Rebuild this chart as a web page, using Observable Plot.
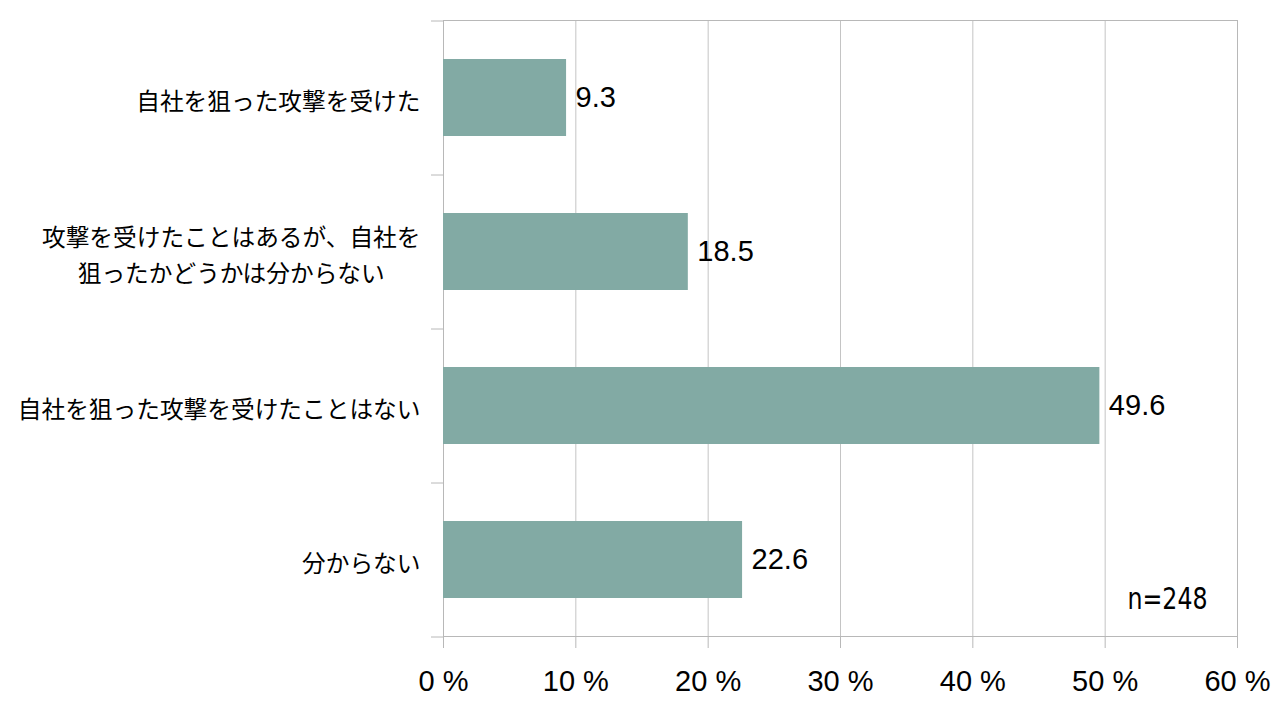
<!DOCTYPE html>
<html>
<head>
<meta charset="utf-8">
<script src="https://cdn.jsdelivr.net/npm/d3@7"></script>
<script src="https://cdn.jsdelivr.net/npm/@observablehq/plot@0.6"></script>
<style>
  html, body { margin: 0; padding: 0; background: #fff; }
</style>
</head>
<body>
<div id="chart"></div>
<script>
const categories = [
  "自社を狙った攻撃を受けた",
  "攻撃を受けたことはあるが、自社を\n狙ったかどうかは分からない",
  "自社を狙った攻撃を受けたことはない",
  "分からない"
];
const values = [9.3, 18.5, 49.6, 22.6];
const xTicks = [0, 10, 20, 30, 40, 50, 60];
const note = "n=248";

const data = categories.map((c, i) => ({category: c, value: values[i]}));

const W = 1286, H = 716;
const mT = 20, mB = 80, mL = 443, mR = 49;
const step = (H - mT - mB) / categories.length;
const gray = "#c4c4c4";
const axisGray = "#b8b8b8";

const chart = Plot.plot({
  width: W,
  height: H,
  marginTop: mT,
  marginBottom: mB,
  marginLeft: mL,
  marginRight: mR,
  style: {background: "#fff", color: "#000", fontFamily: "'Liberation Sans', Arial, sans-serif"},
  x: {domain: [0, 60]},
  y: {domain: categories, paddingInner: 0.5, paddingOuter: 0.25},
  marks: [
    Plot.gridX(xTicks, {stroke: gray, strokeOpacity: 1, strokeWidth: 1}),
    Plot.frame({stroke: axisGray, strokeWidth: 1}),
    Plot.barX(data, {x: "value", y: "category", fill: "#82aaa4"}),
    Plot.text(data, {
      x: "value", y: "category", text: d => d.value.toFixed(1),
      textAnchor: "start", dx: 9, fontSize: 29, fill: "#000",
      fontFamily: "'Liberation Sans', Arial, sans-serif"
    }),
    Plot.axisX({
      ticks: xTicks, tickFormat: d => `${d} %`, tickSize: 12, tickPadding: 22,
      fontSize: 29, stroke: axisGray, fill: "#000", label: null
    }),
    Plot.axisY({
      tickSize: 0, tickPadding: 23, fontSize: 23.7, lineHeight: 1.52,
      fontFamily: "'Noto Sans CJK JP', sans-serif", fill: "#000", label: null
    }),
    Plot.axisY({tickSize: 12, dy: -step / 2, tickFormat: () => "", stroke: axisGray, label: null}),
    Plot.axisY({ticks: [categories[categories.length - 1]], tickSize: 12, dy: step / 2, tickFormat: () => "", stroke: axisGray, label: null}),
    Plot.text([note], {
      frameAnchor: "bottom-right", text: d => d, textAnchor: "end", lineAnchor: "middle",
      dx: -30, dy: -37, fontSize: 30, fill: "#000",
      fontFamily: "'DejaVu Sans Condensed', 'DejaVu Sans', sans-serif",
      className: "note"
    })
  ]
});

document.getElementById("chart").appendChild(chart);

// center multi-line y labels relative to each other, keeping right edge aligned
chart.querySelectorAll('g[aria-label="y-axis tick label"] text').forEach(t => {
  if (t.querySelectorAll("tspan").length > 1) {
    const w = t.getBBox().width;
    t.setAttribute("text-anchor", "middle");
    const tr = t.getAttribute("transform") || "";
    t.setAttribute("transform", `${tr} translate(${-w / 2},0)`);
  }
});

// narrow the sample-size note like the condensed face in the original
chart.querySelectorAll('g.note text').forEach(t => {
  t.setAttribute("textLength", 80);
  t.setAttribute("lengthAdjust", "spacingAndGlyphs");
});
</script>
</body>
</html>
